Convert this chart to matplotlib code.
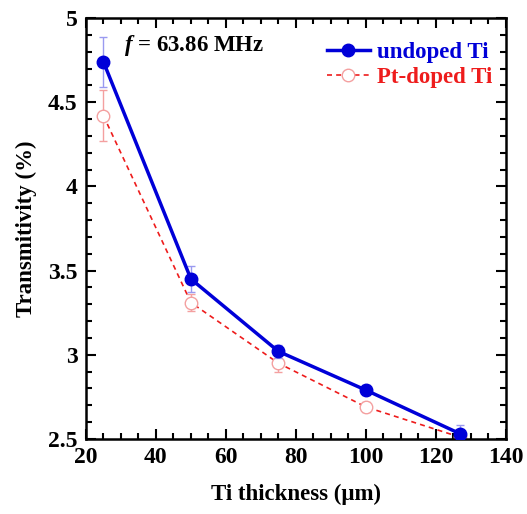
import matplotlib
matplotlib.use("Agg")
import matplotlib.pyplot as plt
from matplotlib.ticker import MultipleLocator
from matplotlib.lines import Line2D

thickness = [25, 50, 75, 100, 127]
undoped = [4.74, 3.45, 3.02, 2.79, 2.53]
undoped_err = [0.15, 0.08, 0.04, 0.03, 0.05]
ptdoped = [4.42, 3.31, 2.95, 2.69, 2.51]
ptdoped_err = [0.15, 0.05, 0.05, 0.03, 0.02]

plt.rcParams['font.family'] = ['Liberation Serif', 'DejaVu Serif']
plt.rcParams['font.weight'] = 'bold'
plt.rcParams['mathtext.fontset'] = 'custom'
plt.rcParams['mathtext.it'] = 'Liberation Serif:italic:bold'
plt.rcParams['mathtext.rm'] = 'Liberation Serif:bold'

BLUE = '#0000d8'
RED = '#ee1c1c'

fig = plt.figure(figsize=(5.27, 5.14), dpi=100)
ax = fig.add_axes([0.163, 0.146, 0.797, 0.819])

ax.errorbar(thickness, ptdoped, yerr=ptdoped_err, color=RED, ls=(0, (3, 2.5)), lw=1.2,
            marker='o', ms=9, mfc='white', mec='#f4a0a0', mew=1.0,
            ecolor='#f4a0a0', elinewidth=1.0, capsize=3, capthick=1.0, zorder=2)
ax.errorbar(thickness, undoped, yerr=undoped_err, color=BLUE, ls='-', lw=2.5,
            marker='o', ms=9, mfc=BLUE, mec=BLUE,
            ecolor='#9a9af0', elinewidth=1.0, capsize=3, capthick=1.0, zorder=3)

ax.set_xlim(20, 140)
ax.set_ylim(2.5, 5)
ax.xaxis.set_major_locator(MultipleLocator(20))
ax.xaxis.set_minor_locator(MultipleLocator(5))
ax.yaxis.set_minor_locator(MultipleLocator(0.1))
ax.set_yticks([2.5, 3, 3.5, 4, 4.5, 5])
ax.set_yticklabels(['2.5', '3', '3.5', '4', '4.5', '5'])
ax.tick_params(which='both', direction='in', top=True, right=True, width=1.5)
ax.tick_params(which='major', length=7, labelsize=17, pad=6)
ax.tick_params(which='minor', length=4)
for s in ax.spines.values():
    s.set_linewidth(1.8)

ax.set_xlabel('Ti thickness (\u03bcm)', fontsize=16.5, fontweight='bold', labelpad=11)
ax.set_ylabel('Transmitivity (%)', fontsize=16.5, fontweight='bold', labelpad=8)

ax.text(0.09, 0.965, r'$f$' + ' = 63.86 MHz', transform=ax.transAxes,
        fontsize=16.5, fontweight='bold', va='top', ha='left')

h1 = Line2D([], [], color=BLUE, lw=2.5, marker='o', ms=9, mfc=BLUE, mec=BLUE)
h2 = Line2D([], [], color=RED, lw=1.2, ls=(0, (3, 2.5)), marker='o', ms=9,
            mfc='white', mec='#f4a0a0', mew=1.0)
leg = ax.legend([h1, h2], ['undoped Ti', 'Pt-doped Ti'], loc='upper right',
                bbox_to_anchor=(1.0, 0.975), frameon=False,
                fontsize=16.5, handlelength=1.9, handletextpad=0.3, borderaxespad=0.2,
                labelspacing=0.15)
for t, c in zip(leg.get_texts(), [BLUE, RED]):
    t.set_color(c)

fig.savefig('out.png', dpi=100)
